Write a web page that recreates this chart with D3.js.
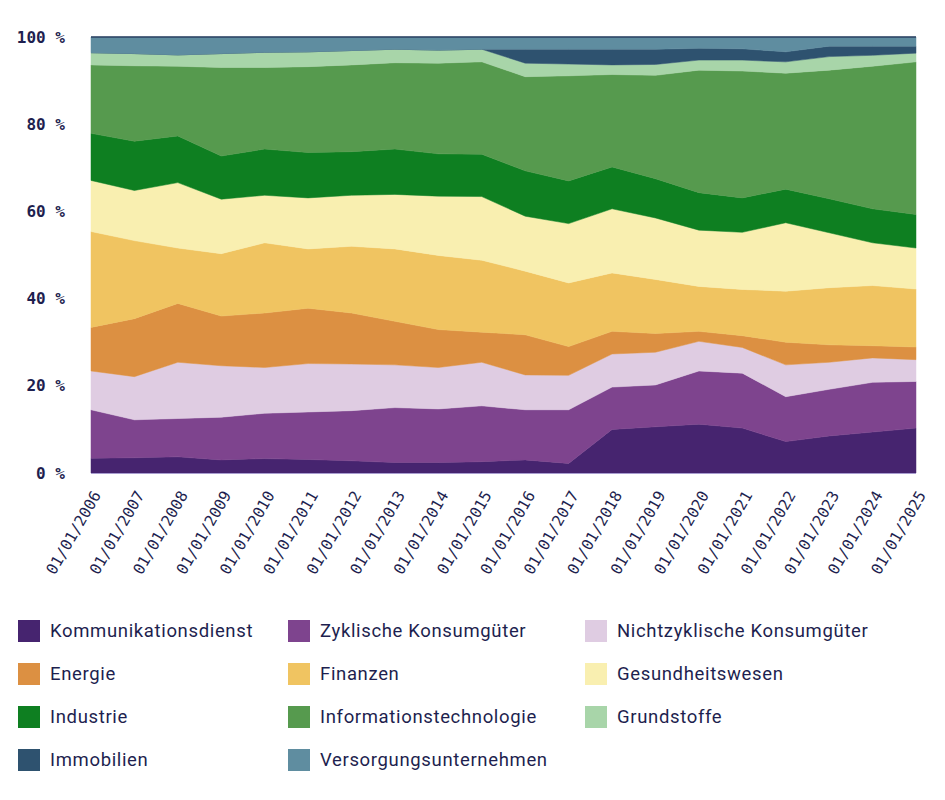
<!DOCTYPE html>
<html>
<head>
<meta charset="utf-8">
<script src="https://cdn.jsdelivr.net/npm/d3@7"></script>
<style>
  body { margin: 0; background: #fff; }
  svg { display: block; }
</style>
</head>
<body>
<svg id="chart" width="945" height="800"></svg>
<script>
// Stichtage
const dates = ['01/01/2006', '01/01/2007', '01/01/2008', '01/01/2009', '01/01/2010',
  '01/01/2011', '01/01/2012', '01/01/2013', '01/01/2014', '01/01/2015',
  '01/01/2016', '01/01/2017', '01/01/2018', '01/01/2019', '01/01/2020',
  '01/01/2021', '01/01/2022', '01/01/2023', '01/01/2024', '01/01/2025']

// Sektoren (Reihenfolge = Stapelung von unten nach oben)
const sectors = ['Kommunikationsdienst', 'Zyklische Konsumgüter', 'Nichtzyklische Konsumgüter',
  'Energie', 'Finanzen', 'Gesundheitswesen', 'Industrie', 'Informationstechnologie',
  'Grundstoffe', 'Immobilien', 'Versorgungsunternehmen']

const sectorColors = ['#46246f', '#7e448e', '#dfcce2', '#dc9042', '#f0c461', '#f9efb0',
  '#0e7f21', '#569a4e', '#a8d5a9', '#2e526f', '#5f8da0']

// Gewichte in % je Jahr
const kommunikation = [3.4, 3.5, 3.7, 3.0, 3.3, 3.1, 2.8, 2.4, 2.4, 2.6, 3.0, 2.2, 10.0, 10.6, 11.2, 10.3, 7.2, 8.5, 9.4, 10.3]
const zyklisch      = [11.1, 8.7, 8.8, 9.8, 10.4, 10.9, 11.5, 12.6, 12.3, 12.8, 11.5, 12.3, 9.7, 9.6, 12.2, 12.6, 10.3, 10.7, 11.4, 10.7]
const nichtzyklisch = [8.9, 9.9, 12.9, 11.8, 10.5, 11.1, 10.7, 9.8, 9.5, 10.0, 8.0, 7.9, 7.6, 7.5, 6.8, 5.9, 7.3, 6.2, 5.6, 5.0]
const energie       = [10.0, 13.3, 13.5, 11.4, 12.5, 12.7, 11.7, 10.0, 8.7, 6.9, 9.2, 6.6, 5.2, 4.3, 2.3, 2.7, 5.2, 4.0, 2.8, 2.9]
const finanzen      = [22.0, 17.9, 12.7, 14.3, 16.1, 13.6, 15.3, 16.6, 17.0, 16.5, 14.6, 14.6, 13.4, 12.4, 10.3, 10.6, 11.7, 13.1, 13.8, 13.3]
const gesundheit    = [11.7, 11.5, 15.0, 12.5, 10.9, 11.7, 11.7, 12.5, 13.6, 14.6, 12.6, 13.6, 14.7, 14.1, 12.9, 13.1, 15.7, 12.6, 9.8, 9.4]
const industrie     = [10.8, 11.3, 10.7, 9.9, 10.6, 10.4, 10.0, 10.4, 9.7, 9.7, 10.4, 9.8, 9.6, 9.0, 8.6, 7.9, 7.7, 7.8, 7.8, 7.7]
const infotech      = [15.7, 17.3, 16.0, 20.3, 18.7, 19.7, 19.9, 19.8, 20.8, 21.2, 21.6, 24.1, 21.2, 23.7, 28.1, 29.1, 26.6, 29.5, 32.7, 35.0]
const grundstoffe   = [2.8, 2.8, 2.6, 3.2, 3.5, 3.4, 3.3, 3.1, 3.0, 2.9, 3.1, 2.7, 2.2, 2.5, 2.3, 2.5, 2.6, 3.1, 2.5, 2.0]
const immobilien    = [0, 0, 0, 0, 0, 0, 0, 0, 0, 0, 3.2, 3.4, 3.6, 3.5, 2.7, 2.6, 2.3, 2.4, 2.1, 1.6]
const versorgung    = [3.6, 3.8, 4.1, 3.8, 3.5, 3.4, 3.1, 2.8, 3.0, 2.8, 2.8, 2.8, 2.8, 2.8, 2.6, 2.7, 3.4, 2.1, 2.1, 2.1]

const seriesValues = [kommunikation, zyklisch, nichtzyklisch, energie, finanzen, gesundheit,
  industrie, infotech, grundstoffe, immobilien, versorgung]

const yTicks = [0, 20, 40, 60, 80, 100]

const settings = {
  margin: { top: 37, left: 91, bottom: 327, right: 29 },
  width: 945,
  height: 800,
  textColor: '#1e1f4f'
}

const innerwidth = settings.width - settings.margin.left - settings.margin.right
const innerheight = settings.height - settings.margin.top - settings.margin.bottom

// Tabelle für d3.stack bauen
const table = dates.map((d, i) => {
  const row = { date: d }
  sectors.forEach((s, k) => { row[s] = seriesValues[k][i] })
  return row
})

const stacked = d3.stack().keys(sectors).offset(d3.stackOffsetExpand)(table)

const svg = d3.select('#chart')
const canvas = svg.append('g')
  .attr('transform', `translate(${settings.margin.left},${settings.margin.top})`)

const xScale = d3.scalePoint().domain(dates).range([0, innerwidth])
const yScale = d3.scaleLinear().domain([0, 1]).range([innerheight, 0])
const colorScale = d3.scaleOrdinal().domain(sectors).range(sectorColors)

const area = d3.area()
  .x((d) => xScale(d.data.date))
  .y0((d) => yScale(d[0]))
  .y1((d) => yScale(d[1]))

canvas.selectAll('.layer')
  .data(stacked)
  .enter()
  .append('path')
  .attr('class', 'layer')
  .attr('fill', (d) => colorScale(d.key))
  .attr('stroke', (d) => colorScale(d.key))
  .attr('stroke-width', 0.5)
  .attr('d', area)

// obere Begrenzung + Grundlinie
canvas.append('line')
  .attr('x1', 0).attr('x2', innerwidth)
  .attr('y1', yScale(1)).attr('y2', yScale(1))
  .attr('stroke', '#2b4062').attr('stroke-width', 1.5)
canvas.append('line')
  .attr('x1', 0).attr('x2', innerwidth)
  .attr('y1', yScale(0) + 0.5).attr('y2', yScale(0) + 0.5)
  .attr('stroke', '#a89cd0').attr('stroke-width', 1)

// y-Achse
const yAxis = d3.axisLeft(yScale)
  .tickValues(yTicks.map((t) => t / 100))
  .tickSize(0)
  .tickPadding(26)
  .tickFormat((d) => `${Math.round(d * 100)} %`)

const yAxisGroup = canvas.append('g').call(yAxis)
yAxisGroup.select('.domain').remove()
yAxisGroup.selectAll('text')
  .attr('font-family', '"DejaVu Sans Mono", monospace')
  .attr('font-weight', 'bold')
  .attr('font-size', '16px')
  .attr('fill', settings.textColor)

// x-Achse
const xAxis = d3.axisBottom(xScale).tickSize(0).tickPadding(0)
const xAxisGroup = canvas.append('g')
  .attr('transform', `translate(0,${innerheight})`)
  .call(xAxis)
xAxisGroup.select('.domain').remove()
xAxisGroup.selectAll('text')
  .attr('font-family', '"DejaVu Sans Mono", monospace')
  .attr('font-size', '15.5px')
  .attr('fill', settings.textColor)
  .attr('text-anchor', 'end')
  .attr('dy', 0)
  .attr('y', 0)
  .attr('transform', 'translate(10,22) rotate(-60)')

// Legende
const legend = svg.append('g').attr('transform', 'translate(18,620)')
const colX = [0, 270, 567]
const rowH = 43

const items = legend.selectAll('.item')
  .data(sectors)
  .enter()
  .append('g')
  .attr('class', 'item')
  .attr('transform', (d, i) => `translate(${colX[i % 3]},${Math.floor(i / 3) * rowH})`)

items.append('rect')
  .attr('width', 22)
  .attr('height', 22)
  .attr('fill', (d) => colorScale(d))

items.append('text')
  .attr('x', 32)
  .attr('y', 11)
  .attr('dy', '0.35em')
  .attr('font-family', 'Roboto, sans-serif')
  .attr('font-size', '18.5px')
  .attr('letter-spacing', '0.65px')
  .attr('fill', settings.textColor)
  .text((d) => d)
</script>
</body>
</html>
